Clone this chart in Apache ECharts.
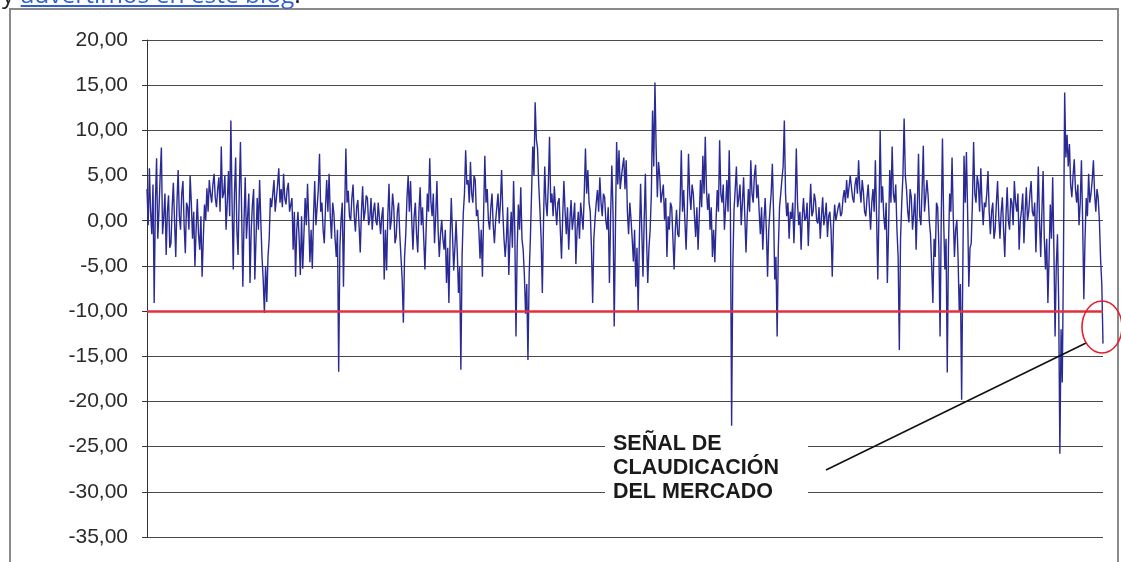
<!DOCTYPE html>
<html>
<head>
<meta charset="utf-8">
<script src="https://cdn.jsdelivr.net/npm/echarts@6/dist/echarts.min.js"></script>
<style>
  html, body { margin: 0; padding: 0; background: #fff; overflow: hidden; }
  #chart { width: 1121px; height: 562px; }
  .cabecera {
    position: absolute; left: 2px; top: -18px; z-index: 2;
    font: 24.5px/24.5px 'Open Sans', sans-serif; color: #222; white-space: nowrap;
  }
  .cabecera a { color: #2f5fd8; text-decoration: underline; }
</style>
</head>
<body>
<div class="cabecera">y <a href="#">advertimos en este blog</a>.</div>
<div id="chart"></div>
<script>
// lecturas del gráfico, de izquierda a derecha (8 tramos de ~100 puntos)
const tramo1 = [3.5, -0.5, 5.8, 1.0, -1.5, 4.0, -9.1, 2.0, 6.9, -2.0, 1.2, 5.0, 8.1, -1.5, 0.5, 3.0, -3.8, 1.0, 2.8, -3.0,
  -2.5, 1.5, 4.2, 0.0, -4.0, 2.0, 5.6, 0.5, -1.0, 3.0, 4.4, -0.5, -3.6, 2.0, 1.5, -1.0, 5.0, 2.0, -2.0, 1.0,
  -5.0, -1.0, 2.4, -1.5, -3.2, 0.5, -6.2, -2.0, 1.8, 0.0, 3.6, 1.0, 4.5, 3.0, 2.0, 4.0, 5.2, 2.5, 1.5, 3.5,
  4.8, 1.0, 8.2, 2.5, 3.0, 5.0, -1.0, 2.0, 5.5, 0.5, 11.1, 2.0, -5.4, 3.0, 7.0, -1.0, -3.8, 3.0, 8.7, 1.0,
  -7.3, 0.0, 4.8, -2.0, 0.5, 3.0, -6.9, -1.0, 1.8, 3.5, -6.5, -2.0, 2.5, -1.0, 4.5, 0.0, -4.0, -6.5, -10.2, -5.0]
const tramo2 = [-9.0, -4.0, -2.0, 2.5, 1.5, 3.0, 4.5, 1.0, 2.5, 4.0, 5.8, 2.0, 3.5, 1.5, 5.2, 2.5, 1.8, 3.5, 4.2, 1.0,
  0.8, 2.5, -3.2, 1.0, -6.2, -1.0, 1.0, -2.0, -6.0, 0.5, -5.3, -1.5, 2.5, -0.5, 4.1, 0.0, -4.6, -1.0, -5.3, 0.5,
  4.4, -0.5, 1.5, 3.5, 7.4, 1.0, 2.0, -1.0, -2.5, 1.5, 4.5, 1.0, 5.2, 0.5, -2.0, 2.0, 0.8, -2.0, -4.0, -1.0,
  -16.7, -3.0, 0.2, 2.0, -7.3, 1.0, 8.0, 2.0, 3.3, 0.5, 0.0, 2.5, 4.0, 0.5, -1.2, 1.5, 2.3, -0.5, -3.5, 1.0,
  3.8, 0.0, 1.0, 2.8, 2.5, -0.5, 0.3, 2.5, -1.0, 1.0, 2.0, 0.0, -0.5, 2.0, 1.8, -1.5, 0.5, 1.5, -6.5, -1.0]
const tramo3 = [-5.5, 0.5, 4.1, -1.0, 0.1, 3.0, 1.5, -2.5, -1.8, 1.0, 2.0, -1.5, -4.0, -6.5, -11.3, -4.0, -1.5, 2.5, 5.0, 1.0,
  4.4, 0.0, -3.2, 0.5, 2.0, -1.5, -3.5, 1.0, 3.7, -0.5, 1.5, -2.0, -5.4, -1.0, 3.0, 1.0, 6.9, 2.0, 0.5, 3.0,
  -2.5, 0.5, 4.4, -1.0, -4.0, -1.5, 0.1, -2.0, -3.2, -1.0, -6.9, -3.0, -9.1, -2.0, 2.5, -1.5, -5.5, -3.0, 0.0, -3.5,
  -8.0, -5.0, -16.5, -4.0, 0.8, 3.0, 7.8, 4.0, 4.5, 2.0, 6.5, 3.0, 2.0, 5.0, 4.5, 0.5, 1.2, -1.0, -4.2, -1.0,
  -6.2, 1.0, 7.2, 2.0, 3.5, 0.0, -1.0, 1.5, 3.0, -0.5, -2.5, 0.0, 1.5, 3.0, -0.3, 2.0, 5.6, 1.0, -2.0, -4.0]
const tramo4 = [-2.0, 1.5, -6.0, -2.0, 1.0, -3.0, 4.4, -1.0, -12.8, -3.0, 1.8, -1.0, 3.7, -2.0, -3.2, -6.0, -10.3, -7.0, -15.4, -6.0,
  -2.0, 3.0, 8.2, 5.0, 13.1, 9.0, 8.0, 4.0, 1.2, -2.0, -8.0, 0.0, 6.0, 2.0, 0.5, 4.0, 9.3, 2.0, 3.0, 0.5,
  3.8, 1.5, -0.5, 2.0, 2.5, -1.0, -4.2, 0.5, 4.4, 1.0, -1.5, 1.5, -3.2, 0.0, 2.3, -1.0, 0.3, 2.0, -4.8, -1.0,
  1.0, -2.0, 2.0, 0.5, -1.0, 3.0, 8.0, 3.0, 5.6, 2.0, 1.0, -3.0, -9.1, -2.0, 0.2, 2.0, 3.4, 1.0, 4.8, 2.0,
  0.5, 3.0, 2.6, 0.0, -1.0, 1.5, -6.9, 0.5, 6.1, 1.0, -11.7, -1.0, 8.7, 4.0, 7.8, 3.5, 4.8, 6.0, 7.0, 3.5]
const tramo5 = [6.7, 1.0, -1.5, 2.0, 0.2, -2.0, -4.5, -1.0, -7.3, -3.0, -10.0, -2.0, 4.1, -1.0, -6.2, 0.0, 5.2, -2.0, -6.9, -3.0,
  -1.0, 3.0, 12.2, 6.0, 15.3, 8.0, 2.6, 6.5, 5.0, 2.0, 1.8, 4.0, 0.1, 2.5, -4.0, 0.5, -1.0, 2.0, 1.5, -2.0,
  -5.4, -1.0, 1.2, -1.5, -1.8, 2.0, 7.8, 1.0, 3.4, 0.0, -3.2, 1.0, 7.4, 3.0, 1.2, 4.0, 3.0, 0.5, -1.8, 1.5,
  -3.2, 0.5, 4.5, 1.5, 7.2, 3.0, 9.3, 3.5, 1.2, 3.0, -1.0, 1.5, -4.0, -1.0, -4.6, 0.0, 3.4, 1.0, 8.9, 3.0,
  2.0, 4.0, -1.0, 1.5, 4.5, 1.0, 7.8, 1.0, -22.7, -5.0, 1.2, 3.5, 6.0, 1.5, 2.5, 4.0, -0.5, 2.0, 4.8, 0.5]
const tramo6 = [-3.5, 0.5, 3.5, 1.0, 6.7, 3.0, 2.0, 5.0, 6.2, 2.5, 4.0, 1.0, -1.5, 1.5, -3.2, 0.0, 2.5, -1.0, -6.2, -1.0,
  1.2, 3.0, 6.3, 1.0, -6.5, -4.0, -12.8, -3.0, 1.5, 3.0, 4.6, 6.0, 11.1, 3.0, 0.5, 2.0, -2.0, 1.0, 0.2, 2.0,
  -2.5, 1.5, 8.0, 2.0, -0.5, 1.0, -3.2, 0.5, 2.5, 0.0, 0.3, 2.0, -2.8, 1.0, 4.1, 0.5, 1.0, 3.0, 2.2, 0.0,
  -0.3, 1.5, -2.0, 0.5, 2.6, -0.5, 0.5, 2.0, -1.8, 0.5, 1.0, -1.0, -6.2, -0.5, 1.8, 0.0, -0.2, 1.5, 2.0, 0.5,
  0.8, 2.5, 3.4, 2.0, 4.5, 2.5, 3.7, 5.0, 4.8, 2.5, 2.0, 4.0, 4.8, 3.0, 6.7, 3.5, 2.0, 4.5, 3.2, 1.0]
const tramo7 = [0.5, 2.5, 4.0, 1.5, -1.0, 2.0, 3.5, 1.0, 6.7, 0.5, -6.5, 1.0, 10.0, 2.0, 3.8, 0.5, -1.0, 2.0, -6.9, -1.0,
  5.6, 2.0, 8.2, 3.0, 2.0, 4.0, -1.0, -4.0, -14.3, -2.0, 2.0, 5.0, 11.3, 5.0, 3.5, 1.0, -0.2, 3.5, 2.6, -1.0,
  0.8, 3.0, -3.2, 1.5, 7.4, 0.5, -0.5, 3.5, 8.3, 1.0, 2.6, 4.5, 2.8, 0.0, -1.5, -5.0, -9.1, -2.0, -4.0, 2.0,
  1.5, -3.0, -12.8, 0.5, 9.1, 0.0, -5.4, -2.0, -16.8, -3.0, 3.0, 1.0, 7.0, 0.5, -4.0, -1.0, 0.1, -4.0, -10.0, -7.0,
  -19.8, -5.0, 7.2, 2.0, 7.6, 1.0, -7.3, -3.0, -2.5, 2.0, 8.7, 3.0, 2.0, 5.0, 4.0, 1.0, 5.8, 2.0, -0.5, 2.0]
const tramo8 = [1.5, 3.0, 5.5, 1.0, -1.5, 1.0, 2.0, -2.0, -1.0, 2.0, 4.4, 0.5, -2.0, 1.0, 2.6, -1.0, -4.0, 0.5, 3.7, 0.0,
  -1.0, 2.5, 2.0, -0.5, 4.4, 2.0, 1.0, 3.0, -3.2, 0.0, 1.2, 3.0, -2.5, 1.0, 3.7, 0.0, 1.0, 3.0, 4.4, 1.0,
  0.5, 2.0, -3.5, 1.0, 6.0, 0.0, -4.0, 1.0, 5.5, -2.0, -5.4, -2.0, -9.1, -4.0, 1.8, -2.0, 4.8, -3.0, -12.8, -5.0,
  -1.5, -9.0, -25.8, -12.0, -17.9, -4.0, 14.2, 7.0, 9.5, 6.0, 8.5, 4.0, 2.6, 5.0, 6.8, 3.5, 2.0, 4.0, -0.5, 2.0,
  6.7, 0.0, -8.7, -2.0, 2.5, 0.5, 5.2, 2.0, 3.0, 4.5, 6.7, 3.0, 1.0, 3.5, 2.5, 0.0, -4.3, -7.0, -13.6]

const serie = [].concat(tramo1, tramo2, tramo3, tramo4, tramo5, tramo6, tramo7, tramo8)
const categorias = serie.map((v, i) => i + 1)

const yMin = -35
const yMax = 20
const yPaso = 5
const umbral = -10
const notaTexto = 'SEÑAL DE\nCLAUDICACIÓN\nDEL MERCADO'

const chart = echarts.init(document.getElementById('chart'))

chart.setOption({
  animation: false,
  backgroundColor: '#fff',
  grid: { left: 147, right: 18, top: 40, bottom: 25 },
  xAxis: {
    type: 'category',
    data: categorias,
    boundaryGap: false,
    axisLine: { show: false },
    axisTick: { show: false },
    axisLabel: { show: false },
    splitLine: { show: false }
  },
  yAxis: {
    type: 'value',
    min: yMin,
    max: yMax,
    interval: yPaso,
    axisLine: { show: true, lineStyle: { color: '#333', width: 1 } },
    axisTick: { show: true, length: 5, lineStyle: { color: '#333' } },
    axisLabel: {
      color: '#2a2a2a',
      fontFamily: 'Liberation Sans, Arial, sans-serif',
      fontSize: 21,
      margin: 19,
      formatter: v => v.toFixed(2).replace('.', ',')
    },
    splitLine: { lineStyle: { color: '#4a4a4a', width: 1 } }
  },
  series: [{
    type: 'line',
    data: serie,
    symbol: 'none',
    sampling: null,
    lineStyle: { color: '#2a2a94', width: 1.4 },
    z: 3,
    markLine: {
      silent: true,
      symbol: 'none',
      label: { show: false },
      lineStyle: { color: '#e2303c', width: 2.5, type: 'solid' },
      data: [{ yAxis: umbral }]
    }
  }],
  graphic: [
    // marco de la imagen
    { type: 'rect', shape: { x: 10, y: 9, width: 1108, height: 570 }, style: { fill: 'none', stroke: '#8a8a8a', lineWidth: 2 }, z: 10 },
    // caja blanca del texto
    { type: 'rect', shape: { x: 605, y: 430, width: 203, height: 76 }, style: { fill: '#fff' }, z: 20 },
    {
      type: 'text', left: 613, top: 432, z: 21,
      style: {
        text: notaTexto,
        fill: '#1a1a1a',
        font: 'bold 21.5px "Liberation Sans", Arial, sans-serif',
        lineHeight: 24
      }
    },
    { type: 'line', shape: { x1: 826, y1: 470, x2: 1086, y2: 343 }, style: { stroke: '#111', lineWidth: 1.6 }, z: 20 },
    { type: 'ellipse', shape: { cx: 1102, cy: 327, rx: 20, ry: 26 }, style: { fill: 'none', stroke: '#e0202c', lineWidth: 1.6 }, z: 20 }
  ]
})
</script>
</body>
</html>
